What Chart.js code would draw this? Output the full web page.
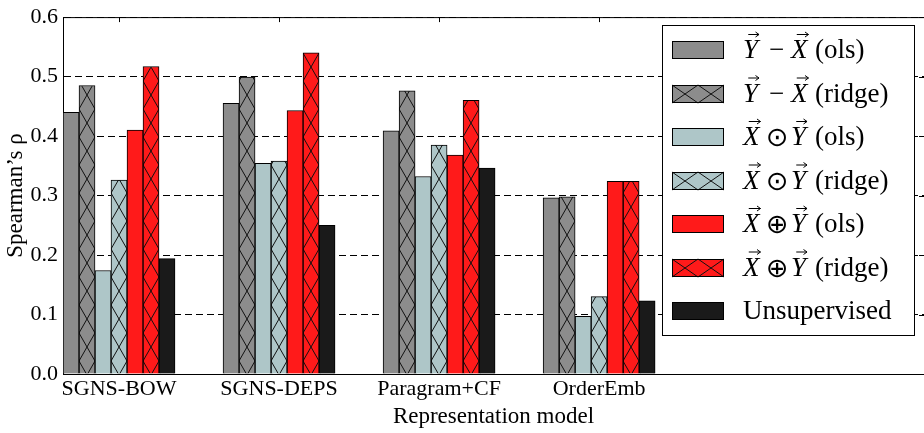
<!DOCTYPE html>
<html>
<head>
<meta charset="utf-8">
<script src="https://cdn.jsdelivr.net/npm/chart.js@4.4.0/dist/chart.umd.min.js"></script>
<style>
html, body { margin: 0; padding: 0; background: #fff; }
#wrap { width: 924px; height: 433px; position: relative; }
</style>
</head>
<body>
<div id="wrap"><canvas id="chart"></canvas></div>
<script>
// values
const categories = ['SGNS-BOW', 'SGNS-DEPS', 'Paragram+CF', 'OrderEmb'];
const diffOls      = [0.440, 0.455, 0.409, 0.296];
const diffRidge    = [0.485, 0.499, 0.476, 0.298];
const prodOls      = [0.174, 0.354, 0.332, 0.097];
const prodRidge    = [0.326, 0.358, 0.385, 0.130];
const sumOls       = [0.410, 0.443, 0.368, 0.324];
const sumRidge     = [0.517, 0.540, 0.460, 0.324];
const unsupervised = [0.194, 0.250, 0.346, 0.123];
const yTicks = [0.0, 0.1, 0.2, 0.3, 0.4, 0.5, 0.6];

// legend entries: [left vector, operator, right vector, tag] or [plain text]
const legendLabels = [
    ['Y', '\u2212', 'X', '(ols)'],
    ['Y', '\u2212', 'X', '(ridge)'],
    ['X', '\u2299', 'Y', '(ols)'],
    ['X', '\u2299', 'Y', '(ridge)'],
    ['X', '\u2295', 'Y', '(ols)'],
    ['X', '\u2295', 'Y', '(ridge)'],
    ['Unsupervised']
];

const seriesValues = [diffOls, diffRidge, prodOls, prodRidge, sumOls, sumRidge, unsupervised];
const seriesColors = ['#8c8c8c', '#8c8c8c', '#aec6c8', '#aec6c8', '#ff1a1a', '#ff1a1a', '#1a1a1a'];
const seriesHatched = [false, true, false, true, false, true, false];

const SERIF = "'Liberation Serif', 'DejaVu Serif', serif";
Chart.defaults.font.family = SERIF;
Chart.defaults.color = '#000';

const canvas = document.getElementById('chart');
const ctx = canvas.getContext('2d');

// 'x' hatch like matplotlib, one cell per bar width
function hatch(color) {
    const c = document.createElement('canvas');
    c.width = 16;
    c.height = 28;
    const g = c.getContext('2d');
    g.fillStyle = color;
    g.fillRect(0, 0, 16, 28);
    g.strokeStyle = '#111';
    g.lineWidth = 1;
    g.beginPath();
    g.moveTo(0, 0); g.lineTo(16, 28);
    g.moveTo(16, 0); g.lineTo(0, 28);
    g.stroke();
    const p = ctx.createPattern(c, 'repeat');
    p.setTransform(new DOMMatrix().translate(15, 25));
    return p;
}

function labelText(parts) {
    if (parts.length === 1) return parts[0];
    return parts[0] + '\u20D7 ' + parts[1] + ' ' + parts[2] + '\u20D7 ' + parts[3];
}

const datasets = seriesValues.map((vals, k) => ({
    label: labelText(legendLabels[k]),
    data: vals.map((v, i) => ({ x: i, y: v })),
    backgroundColor: seriesHatched[k] ? hatch(seriesColors[k]) : seriesColors[k],
    borderColor: '#000',
    borderWidth: 1,
    barThickness: 16
}));

// top spine plus the inward ticks on top and right
const frame = {
    id: 'frame',
    afterDraw(chart) {
        const { ctx: c, chartArea: a, scales } = chart;
        c.save();
        c.strokeStyle = '#000';
        c.lineWidth = 1;
        c.beginPath();
        c.moveTo(a.left, a.top + 0.5);
        c.lineTo(a.right, a.top + 0.5);
        categories.forEach((_, i) => {
            const px = Math.round(scales.x.getPixelForValue(i)) + 0.5;
            c.moveTo(px, a.top);
            c.lineTo(px, a.top + 5);
        });
        yTicks.forEach(v => {
            const py = Math.round(scales.y.getPixelForValue(v)) + 0.5;
            c.moveTo(a.right - 5, py);
            c.lineTo(a.right, py);
        });
        c.stroke();
        c.restore();
    }
};

function vecArrow(c, x0, w, base) {
    const y = base - 23.5;
    const x1 = x0 + 0.35 * w, x2 = x0 + w + 1;
    c.beginPath();
    c.moveTo(x1, y); c.lineTo(x2, y);
    c.moveTo(x2 - 3.5, y - 2.5); c.lineTo(x2, y); c.lineTo(x2 - 3.5, y + 2.5);
    c.stroke();
}

// legend box drawn inside the plot, upper right
const legendBox = {
    id: 'legendBox',
    afterDraw(chart) {
        const c = chart.ctx;
        c.save();
        c.lineWidth = 1;
        c.fillStyle = '#fff';
        c.fillRect(662.5, 25.5, 252, 310);
        c.strokeStyle = '#000';
        c.strokeRect(662.5, 25.5, 252, 310);

        legendLabels.forEach((parts, k) => {
            const cy = 50 + 43.5 * k;
            const px = 672, py = Math.round(cy - 9), pw = 52, ph = 18;
            c.fillStyle = seriesColors[k];
            c.fillRect(px, py, pw, ph);
            if (seriesHatched[k]) {
                c.strokeStyle = '#111';
                c.beginPath();
                for (let j = 0; j < 2; j++) {
                    const x0 = px + 26 * j;
                    c.moveTo(x0, py); c.lineTo(x0 + 26, py + ph);
                    c.moveTo(x0 + 26, py); c.lineTo(x0, py + ph);
                }
                c.stroke();
            }
            c.strokeStyle = '#000';
            c.strokeRect(px + 0.5, py + 0.5, pw - 1, ph - 1);

            const base = cy + 8;
            c.fillStyle = '#000';
            c.textBaseline = 'alphabetic';
            c.textAlign = 'left';
            if (parts.length === 1) {
                c.font = '27px ' + SERIF;
                c.fillText(parts[0], 743, base);
                return;
            }
            c.font = 'italic 27px ' + SERIF;
            c.fillText(parts[0], 743, base);
            vecArrow(c, 743, c.measureText(parts[0]).width, base);
            if (parts[1] === '\u2212') {
                c.font = '27px ' + SERIF;
                c.fillText(parts[1], 769, base);
            } else {
                c.font = "27px 'DejaVu Sans', sans-serif";
                c.fillText(parts[1], 766, base + 1);
            }
            c.font = 'italic 27px ' + SERIF;
            c.fillText(parts[2], 791, base);
            vecArrow(c, 791, c.measureText(parts[2]).width, base);
            c.font = '27px ' + SERIF;
            c.fillText(parts[3], 815, base);
        });
        c.restore();
    }
};

new Chart(ctx, {
    type: 'bar',
    data: { datasets },
    options: {
        responsive: true,
        maintainAspectRatio: false,
        animation: false,
        events: [],
        layout: { padding: { top: 13, left: 0, right: 0, bottom: 0 } },
        plugins: {
            legend: { display: false },
            tooltip: { enabled: false }
        },
        scales: {
            x: {
                type: 'linear',
                offset: false,
                min: -0.35,
                max: 5.03,
                grid: { display: false, drawTicks: false, tickLength: 0, offset: false },
                border: { display: true, color: '#000', width: 1 },
                afterBuildTicks: s => { s.ticks = categories.map((_, i) => ({ value: i })); },
                afterFit: s => { s.height = 59; },
                ticks: {
                    autoSkip: false,
                    maxRotation: 0,
                    padding: 3,
                    font: { size: 22, lineHeight: 1.1 },
                    callback: v => categories[v]
                },
                title: {
                    display: true,
                    text: 'Representation model',
                    font: { size: 23 },
                    padding: { top: 0, bottom: 2 }
                }
            },
            y: {
                min: 0,
                max: 0.6,
                z: 1,
                afterBuildTicks: s => { s.ticks = yTicks.map(v => ({ value: v })); },
                afterFit: s => { s.width = 63; },
                grid: { color: '#000', lineWidth: 1, drawTicks: false },
                border: { display: true, color: '#000', width: 1, dash: [7, 4] },
                ticks: {
                    padding: 5,
                    font: { size: 22, lineHeight: 1.1 },
                    callback: v => v.toFixed(1)
                },
                title: {
                    display: true,
                    text: 'Spearman\u2019s \u03C1',
                    font: { size: 23 },
                    padding: { top: 2, bottom: 0 }
                }
            }
        }
    },
    plugins: [frame, legendBox]
});
</script>
</body>
</html>
